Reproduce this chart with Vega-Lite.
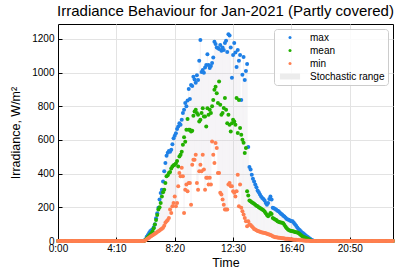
{
"$schema": "https://vega.github.io/schema/vega-lite/v6.json",
"width": 335, "height": 217,
"autosize": {"type": "none"},
"padding": {"left": 58, "top": 24, "right": 7, "bottom": 37},
"background": "white",
"config": {
 "font": "Liberation Sans",
 "view": {"stroke": "black", "strokeWidth": 1},
 "axis": {"domainColor": "black", "tickColor": "black", "tickSize": -4, "labelFontSize": 10, "labelColor": "black", "titleFontSize": 12.5, "titleFontWeight": "normal", "titleColor": "black", "gridColor": "#e3e3e3", "labelFont": "Liberation Sans", "titleFont": "Liberation Sans", "labelOverlap": false, "labelFlush": false},
 "legend": {"labelFont": "Liberation Sans", "labelFontSize": 10, "labelColor": "black"}
},
"title": {"text": "Irradiance Behaviour for Jan-2021 (Partly covered)", "fontSize": 15, "fontWeight": "normal", "font": "Liberation Sans", "color": "black", "offset": 5},
"data": {"values": [
{"t":0,"max":0,"mean":0,"min":0},{"t":5,"max":0,"mean":0,"min":0},{"t":10,"max":0,"mean":0,"min":0},{"t":15,"max":0,"mean":0,"min":0},{"t":20,"max":0,"mean":0,"min":0},{"t":25,"max":0,"mean":0,"min":0},{"t":30,"max":0,"mean":0,"min":0},{"t":35,"max":0,"mean":0,"min":0},{"t":40,"max":0,"mean":0,"min":0},{"t":45,"max":0,"mean":0,"min":0},{"t":50,"max":0,"mean":0,"min":0},{"t":55,"max":0,"mean":0,"min":0},
{"t":60,"max":0,"mean":0,"min":0},{"t":65,"max":0,"mean":0,"min":0},{"t":70,"max":0,"mean":0,"min":0},{"t":75,"max":0,"mean":0,"min":0},{"t":80,"max":0,"mean":0,"min":0},{"t":85,"max":0,"mean":0,"min":0},{"t":90,"max":0,"mean":0,"min":0},{"t":95,"max":0,"mean":0,"min":0},{"t":100,"max":0,"mean":0,"min":0},{"t":105,"max":0,"mean":0,"min":0},{"t":110,"max":0,"mean":0,"min":0},{"t":115,"max":0,"mean":0,"min":0},
{"t":120,"max":0,"mean":0,"min":0},{"t":125,"max":0,"mean":0,"min":0},{"t":130,"max":0,"mean":0,"min":0},{"t":135,"max":0,"mean":0,"min":0},{"t":140,"max":0,"mean":0,"min":0},{"t":145,"max":0,"mean":0,"min":0},{"t":150,"max":0,"mean":0,"min":0},{"t":155,"max":0,"mean":0,"min":0},{"t":160,"max":0,"mean":0,"min":0},{"t":165,"max":0,"mean":0,"min":0},{"t":170,"max":0,"mean":0,"min":0},{"t":175,"max":0,"mean":0,"min":0},
{"t":180,"max":0,"mean":0,"min":0},{"t":185,"max":0,"mean":0,"min":0},{"t":190,"max":0,"mean":0,"min":0},{"t":195,"max":0,"mean":0,"min":0},{"t":200,"max":0,"mean":0,"min":0},{"t":205,"max":0,"mean":0,"min":0},{"t":210,"max":0,"mean":0,"min":0},{"t":215,"max":0,"mean":0,"min":0},{"t":220,"max":0,"mean":0,"min":0},{"t":225,"max":0,"mean":0,"min":0},{"t":230,"max":0,"mean":0,"min":0},{"t":235,"max":0,"mean":0,"min":0},
{"t":240,"max":0,"mean":0,"min":0},{"t":245,"max":0,"mean":0,"min":0},{"t":250,"max":0,"mean":0,"min":0},{"t":255,"max":0,"mean":0,"min":0},{"t":260,"max":0,"mean":0,"min":0},{"t":265,"max":0,"mean":0,"min":0},{"t":270,"max":0,"mean":0,"min":0},{"t":275,"max":0,"mean":0,"min":0},{"t":280,"max":0,"mean":0,"min":0},{"t":285,"max":0,"mean":0,"min":0},{"t":290,"max":0,"mean":0,"min":0},{"t":295,"max":0,"mean":0,"min":0},
{"t":300,"max":0,"mean":0,"min":0},{"t":305,"max":0,"mean":0,"min":0},{"t":310,"max":0,"mean":0,"min":0},{"t":315,"max":0,"mean":0,"min":0},{"t":320,"max":0,"mean":0,"min":0},{"t":325,"max":0,"mean":0,"min":0},{"t":330,"max":0,"mean":0,"min":0},{"t":335,"max":0,"mean":0,"min":0},{"t":340,"max":0,"mean":0,"min":0},{"t":345,"max":0,"mean":0,"min":0},{"t":350,"max":0,"mean":0,"min":0},{"t":355,"max":0,"mean":0,"min":0},
{"t":360,"max":0,"mean":0,"min":0},{"t":365,"max":0,"mean":0,"min":0},
{"t":370,"max":3,"mean":1,"min":1},{"t":375,"max":10,"mean":6,"min":4},{"t":380,"max":25,"mean":15,"min":10},{"t":385,"max":35,"mean":22,"min":15},{"t":390,"max":48,"mean":30,"min":20},{"t":395,"max":58,"mean":38,"min":25},
{"t":400,"max":64,"mean":45,"min":30},{"t":405,"max":68,"mean":58,"min":34},{"t":410,"max":82,"mean":75,"min":38},{"t":415,"max":100,"mean":98,"min":43},{"t":420,"max":135,"mean":125,"min":48},{"t":425,"max":165,"mean":155,"min":53},
{"t":430,"max":197,"mean":187,"min":58},{"t":435,"max":246,"mean":200,"min":63},{"t":440,"max":285,"mean":226,"min":68},{"t":445,"max":305,"mean":265,"min":73},{"t":450,"max":354,"mean":290,"min":78},{"t":455,"max":414,"mean":305,"min":90},
{"t":460,"max":463,"mean":345,"min":108},{"t":465,"max":507,"mean":384,"min":117},{"t":470,"max":524,"mean":390,"min":125},{"t":475,"max":535,"mean":404,"min":137},{"t":480,"max":530,"mean":410,"min":187},{"t":485,"max":542,"mean":430,"min":167},
{"t":490,"max":575,"mean":443,"min":206},{"t":495,"max":610,"mean":450,"min":226},{"t":500,"max":625,"mean":453,"min":265},{"t":505,"max":640,"mean":460,"min":206},{"t":510,"max":666,"mean":475,"min":226},{"t":515,"max":680,"mean":443,"min":325},
{"t":520,"max":700,"mean":502,"min":404},{"t":525,"max":690,"mean":513,"min":384},{"t":530,"max":720,"mean":530,"min":435},{"t":535,"max":760,"mean":572,"min":384},{"t":540,"max":779,"mean":617,"min":167},{"t":545,"max":820,"mean":590,"min":305},
{"t":550,"max":800,"mean":661,"min":335},{"t":555,"max":835,"mean":724,"min":295},{"t":560,"max":903,"mean":661,"min":345},{"t":565,"max":844,"mean":661,"min":345},{"t":570,"max":927,"mean":651,"min":216},{"t":575,"max":920,"mean":655,"min":453},
{"t":580,"max":975,"mean":744,"min":483},{"t":585,"max":960,"mean":769,"min":483},{"t":590,"max":940,"mean":779,"min":513},{"t":595,"max":985,"mean":760,"min":345},{"t":600,"max":957,"mean":750,"min":305},{"t":605,"max":1070,"mean":710,"min":414},
{"t":610,"max":1194,"mean":720,"min":453},{"t":615,"max":1004,"mean":760,"min":414},{"t":620,"max":1016,"mean":789,"min":513},{"t":625,"max":1000,"mean":740,"min":424},{"t":630,"max":1030,"mean":740,"min":305},{"t":635,"max":1046,"mean":680,"min":375},
{"t":640,"max":1109,"mean":789,"min":375},{"t":645,"max":1046,"mean":750,"min":335},{"t":650,"max":1028,"mean":779,"min":375},{"t":655,"max":1040,"mean":760,"min":335},{"t":660,"max":1058,"mean":800,"min":591},{"t":665,"max":1090,"mean":838,"min":513},
{"t":670,"max":1184,"mean":898,"min":463},{"t":675,"max":1170,"mean":917,"min":582},{"t":680,"max":1150,"mean":878,"min":552},{"t":685,"max":1147,"mean":819,"min":404},{"t":690,"max":1140,"mean":947,"min":404},{"t":695,"max":1165,"mean":809,"min":286},
{"t":700,"max":1130,"mean":750,"min":276},{"t":705,"max":1150,"mean":760,"min":246},{"t":710,"max":1135,"mean":790,"min":216},{"t":715,"max":1176,"mean":849,"min":187},{"t":720,"max":1190,"mean":779,"min":187},{"t":725,"max":1123,"mean":700,"min":187},
{"t":730,"max":1228,"mean":750,"min":335},{"t":735,"max":1220,"mean":690,"min":345},{"t":740,"max":1150,"mean":651,"min":325},{"t":745,"max":969,"mean":700,"min":325},{"t":750,"max":1105,"mean":720,"min":295},{"t":755,"max":1176,"mean":710,"min":286},
{"t":760,"max":1120,"mean":690,"min":265},{"t":765,"max":1034,"mean":849,"min":295},{"t":770,"max":1135,"mean":641,"min":394},{"t":775,"max":1070,"mean":838,"min":206},{"t":780,"max":1105,"mean":671,"min":335},{"t":785,"max":837,"mean":631,"min":197},
{"t":790,"max":987,"mean":601,"min":177},{"t":795,"max":1093,"mean":583,"min":157},{"t":800,"max":957,"mean":523,"min":137},{"t":805,"max":1010,"mean":552,"min":117},{"t":810,"max":1052,"mean":295,"min":88},{"t":815,"max":558,"mean":270,"min":117},
{"t":820,"max":440,"mean":240,"min":100},{"t":825,"max":424,"mean":236,"min":95},{"t":830,"max":394,"mean":230,"min":88},{"t":835,"max":370,"mean":226,"min":80},{"t":840,"max":354,"mean":222,"min":72},{"t":845,"max":335,"mean":215,"min":68},
{"t":850,"max":320,"mean":210,"min":64},{"t":855,"max":300,"mean":206,"min":60},{"t":860,"max":290,"mean":200,"min":58},{"t":865,"max":276,"mean":196,"min":55},{"t":870,"max":265,"mean":192,"min":52},{"t":875,"max":256,"mean":187,"min":50},
{"t":880,"max":250,"mean":183,"min":49},{"t":885,"max":240,"mean":175,"min":48},{"t":890,"max":226,"mean":165,"min":46},{"t":895,"max":215,"mean":155,"min":43},{"t":900,"max":225,"mean":147,"min":40},{"t":905,"max":250,"mean":155,"min":38},
{"t":910,"max":265,"mean":167,"min":35},{"t":915,"max":246,"mean":160,"min":32},{"t":920,"max":197,"mean":137,"min":28},{"t":925,"max":195,"mean":132,"min":25},{"t":930,"max":190,"mean":128,"min":23},{"t":935,"max":185,"mean":124,"min":22},
{"t":940,"max":180,"mean":117,"min":21},{"t":945,"max":177,"mean":115,"min":20},{"t":950,"max":170,"mean":112,"min":19},{"t":955,"max":162,"mean":110,"min":18},{"t":960,"max":157,"mean":108,"min":17},{"t":965,"max":150,"mean":105,"min":16},
{"t":970,"max":145,"mean":95,"min":15},{"t":975,"max":138,"mean":85,"min":14},{"t":980,"max":130,"mean":75,"min":13},{"t":985,"max":127,"mean":68,"min":13},{"t":990,"max":124,"mean":64,"min":12},{"t":995,"max":120,"mean":61,"min":11},
{"t":1000,"max":118,"mean":59,"min":10},{"t":1005,"max":117,"mean":58,"min":9},{"t":1010,"max":108,"mean":56,"min":8},{"t":1015,"max":100,"mean":54,"min":8},{"t":1020,"max":90,"mean":52,"min":7},{"t":1025,"max":80,"mean":50,"min":6},
{"t":1030,"max":72,"mean":47,"min":6},{"t":1035,"max":65,"mean":42,"min":5},{"t":1040,"max":58,"mean":36,"min":4},{"t":1045,"max":50,"mean":30,"min":4},{"t":1050,"max":46,"mean":25,"min":3},{"t":1055,"max":40,"mean":22,"min":3},
{"t":1060,"max":34,"mean":19,"min":2},{"t":1065,"max":28,"mean":16,"min":2},{"t":1070,"max":24,"mean":13,"min":1},{"t":1075,"max":18,"mean":9,"min":1},{"t":1080,"max":13,"mean":5,"min":0},{"t":1085,"max":8,"mean":2,"min":0},
{"t":1090,"max":4,"mean":0,"min":0},{"t":1095,"max":1,"mean":0,"min":0},
{"t":1100,"max":0,"mean":0,"min":0},{"t":1105,"max":0,"mean":0,"min":0},{"t":1110,"max":0,"mean":0,"min":0},{"t":1115,"max":0,"mean":0,"min":0},{"t":1120,"max":0,"mean":0,"min":0},{"t":1125,"max":0,"mean":0,"min":0},{"t":1130,"max":0,"mean":0,"min":0},{"t":1135,"max":0,"mean":0,"min":0},{"t":1140,"max":0,"mean":0,"min":0},{"t":1145,"max":0,"mean":0,"min":0},
{"t":1150,"max":0,"mean":0,"min":0},{"t":1155,"max":0,"mean":0,"min":0},{"t":1160,"max":0,"mean":0,"min":0},{"t":1165,"max":0,"mean":0,"min":0},{"t":1170,"max":0,"mean":0,"min":0},{"t":1175,"max":0,"mean":0,"min":0},{"t":1180,"max":0,"mean":0,"min":0},{"t":1185,"max":0,"mean":0,"min":0},{"t":1190,"max":0,"mean":0,"min":0},{"t":1195,"max":0,"mean":0,"min":0},
{"t":1200,"max":0,"mean":0,"min":0},{"t":1205,"max":0,"mean":0,"min":0},{"t":1210,"max":0,"mean":0,"min":0},{"t":1215,"max":0,"mean":0,"min":0},{"t":1220,"max":0,"mean":0,"min":0},{"t":1225,"max":0,"mean":0,"min":0},{"t":1230,"max":0,"mean":0,"min":0},{"t":1235,"max":0,"mean":0,"min":0},{"t":1240,"max":0,"mean":0,"min":0},{"t":1245,"max":0,"mean":0,"min":0},
{"t":1250,"max":0,"mean":0,"min":0},{"t":1255,"max":0,"mean":0,"min":0},{"t":1260,"max":0,"mean":0,"min":0},{"t":1265,"max":0,"mean":0,"min":0},{"t":1270,"max":0,"mean":0,"min":0},{"t":1275,"max":0,"mean":0,"min":0},{"t":1280,"max":0,"mean":0,"min":0},{"t":1285,"max":0,"mean":0,"min":0},{"t":1290,"max":0,"mean":0,"min":0},{"t":1295,"max":0,"mean":0,"min":0},
{"t":1300,"max":0,"mean":0,"min":0},{"t":1305,"max":0,"mean":0,"min":0},{"t":1310,"max":0,"mean":0,"min":0},{"t":1315,"max":0,"mean":0,"min":0},{"t":1320,"max":0,"mean":0,"min":0},{"t":1325,"max":0,"mean":0,"min":0},{"t":1330,"max":0,"mean":0,"min":0},{"t":1335,"max":0,"mean":0,"min":0},{"t":1340,"max":0,"mean":0,"min":0},{"t":1345,"max":0,"mean":0,"min":0},
{"t":1350,"max":0,"mean":0,"min":0},{"t":1355,"max":0,"mean":0,"min":0},{"t":1360,"max":0,"mean":0,"min":0},{"t":1365,"max":0,"mean":0,"min":0},{"t":1370,"max":0,"mean":0,"min":0},{"t":1375,"max":0,"mean":0,"min":0},{"t":1380,"max":0,"mean":0,"min":0},{"t":1385,"max":0,"mean":0,"min":0},{"t":1390,"max":0,"mean":0,"min":0},{"t":1395,"max":0,"mean":0,"min":0},
{"t":1400,"max":0,"mean":0,"min":0},{"t":1405,"max":0,"mean":0,"min":0},{"t":1410,"max":0,"mean":0,"min":0},{"t":1415,"max":0,"mean":0,"min":0},{"t":1420,"max":0,"mean":0,"min":0},{"t":1425,"max":0,"mean":0,"min":0},{"t":1430,"max":0,"mean":0,"min":0},{"t":1435,"max":0,"mean":0,"min":0}
]},
"layer": [
 {"mark": {"type": "rule", "color": "#d6cedd", "opacity": 0.25, "strokeWidth": 1},
  "encoding": {
   "x": {"field": "t", "type": "quantitative", "scale": {"domain": [0, 1435], "nice": false, "zero": false},
         "axis": {"title": "Time", "values": [0, 250, 500, 750, 1000, 1250], "labelExpr": "floor(datum.value/60) + ':' + (datum.value % 60 < 10 ? '0' : '') + (datum.value % 60)", "labelPadding": 6, "titlePadding": 3, "grid": true}},
   "y": {"field": "min", "type": "quantitative", "scale": {"domain": [0, 1289], "nice": false},
         "axis": {"title": "Irradiance, W/m²", "values": [0, 200, 400, 600, 800, 1000, 1200], "format": "d", "labelPadding": 8, "titlePadding": 9, "grid": true}},
   "y2": {"field": "max"}
  }},
 {"transform": [{"fold": ["max", "mean", "min"], "as": ["series", "value"]}],
  "mark": {"type": "point", "filled": true, "size": 16, "opacity": 1},
  "encoding": {
   "x": {"field": "t", "type": "quantitative",
         "axis": {"title": "Time", "values": [0, 250, 500, 750, 1000, 1250], "labelExpr": "floor(datum.value/60) + ':' + (datum.value % 60 < 10 ? '0' : '') + (datum.value % 60)", "labelPadding": 6, "titlePadding": 3, "grid": true}},
   "y": {"field": "value", "type": "quantitative",
         "axis": {"title": "Irradiance, W/m²", "values": [0, 200, 400, 600, 800, 1000, 1200], "format": "d", "labelPadding": 8, "titlePadding": 9, "grid": true}},
   "color": {"field": "series", "type": "nominal",
     "scale": {"domain": ["max", "mean", "min", "Stochastic range"], "range": ["#1f80e6", "#22b000", "#ff7f50", "#ececec"]},
     "legend": {"title": null, "orient": "top-right", "offset": 5, "padding": 3.5, "strokeColor": "#cccccc", "fillColor": "rgba(255,255,255,0.85)", "cornerRadius": 3, "symbolSize": 9, "symbolOffset": 7.5, "labelOffset": 15, "rowPadding": 3}},
   "shape": {"field": "series", "type": "nominal",
     "scale": {"domain": ["max", "mean", "min", "Stochastic range"], "range": ["circle", "circle", "circle", "M-6.7,-2H6.7V2H-6.7Z"]},
     "legend": {"title": null, "orient": "top-right", "symbolSize": 9}},
   "order": {"field": "series", "sort": "ascending"}
  }}
]
}
